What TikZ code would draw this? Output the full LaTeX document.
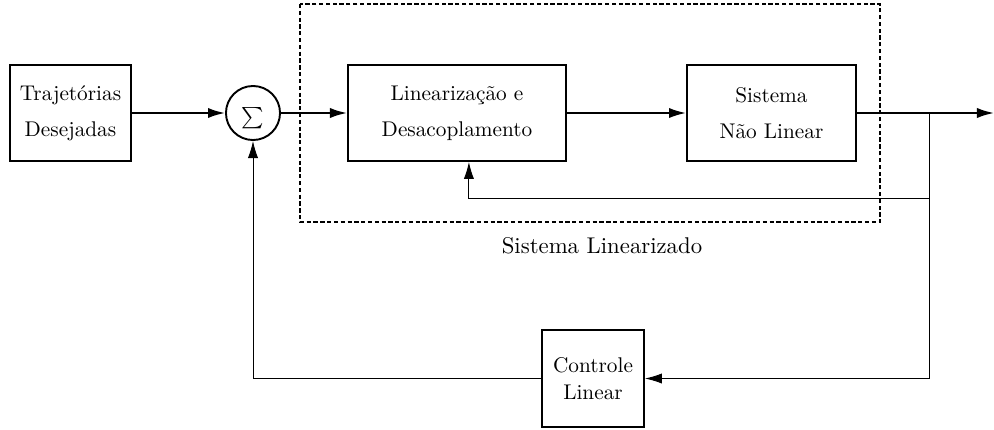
\documentclass[tikz,border=0pt]{standalone}
\usetikzlibrary{arrows.meta}
\begin{document}
\begin{tikzpicture}[x=0.47pt,y=-0.47pt,
  box/.style={draw,line width=0.9pt,rectangle,inner sep=0pt,align=center},
  tip/.style={-{Latex[length=8pt,width=4.8pt]}},
  arr/.style={line width=0.9pt,tip},
  fb/.style={line width=0.45pt},
  fbarr/.style={line width=0.45pt,tip}]
\useasboundingbox (0,0) rectangle (994,429);
\node[box,minimum width=56.9pt,minimum height=45.1pt] (traj) at (70.5,113) {Trajetórias\\[5pt]Desejadas};
\node[draw,circle,line width=0.9pt,minimum size=25.4pt,inner sep=0pt] (sum) at (253,113) {};
\node (sumlbl) at (253,118) {$\sum$};
\node[box,minimum width=102.5pt,minimum height=45.1pt] (lin) at (457,113) {Linearização e\\[5pt]Desacoplamento};
\node[box,minimum width=79.4pt,minimum height=45.1pt] (sis) at (771.5,113) {Sistema\\[5pt]Não Linear};
\node[box,minimum width=47.9pt,minimum height=45.6pt] (ctl) at (593,378.5) {Controle\\[1pt]Linear};
\draw[line width=0.95pt,dash pattern=on 2pt off 1.2pt] (300,4) rectangle (880,222);
\node[font=\fontsize{10.7pt}{13pt}\selectfont] (slin) at (602,246) {Sistema Linearizado};
\coordinate (out) at (994,113);
\coordinate (br) at (929,113);
\coordinate (brin) at (929,198);
\coordinate (brlow) at (929,378.5);
\draw[arr] (traj) -- (sum);
\draw[arr] (sum) -- (lin);
\draw[arr] (lin) -- (sis);
\draw[arr] (sis) -- (out);
\draw[fb] (br) -- (brlow);
\draw[fbarr] (brin) -| ([xshift=5.6pt]lin.south);
\draw[fbarr] (brlow) -- (ctl.east);
\draw[fbarr] (ctl.west) -| (sum.south);
\end{tikzpicture}
\end{document}
